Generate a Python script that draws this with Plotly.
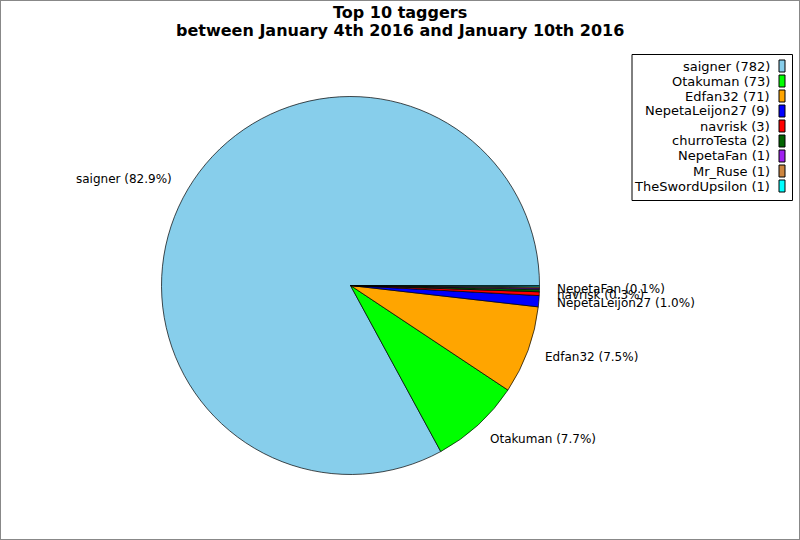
import math
import plotly.graph_objects as go

names = ["saigner", "Otakuman", "Edfan32", "NepetaLeijon27", "navrisk",
         "churroTesta", "NepetaFan", "Mr_Ruse", "TheSwordUpsilon"]
counts = [782, 73, 71, 9, 3, 2, 1, 1, 1]
colors = ["#87CEEB", "#00FF00", "#FFA500", "#0000FF", "#FF0000",
          "#006400", "#A020F0", "#CD853F", "#00FFFF"]
labeled = ["saigner", "Otakuman", "Edfan32", "NepetaLeijon27", "navrisk", "NepetaFan"]
title_lines = ["Top 10 taggers", "between January 4th 2016 and January 10th 2016"]

W, H = 800, 540
cx, cy, R = 350.5, 285.5, 189.0
FONT = "DejaVu Sans"

total = sum(counts)
# plotly: with counterclockwise direction, rotation marks the END of the first slice
rot = 90 - 360.0 * counts[0] / total
while rot < -180:
    rot += 360
while rot > 180:
    rot -= 360

fig = go.Figure()
fig.add_trace(go.Pie(
    labels=names, values=counts, sort=False, direction="counterclockwise",
    rotation=rot, textinfo="none", hoverinfo="label+value+percent",
    marker=dict(colors=colors, line=dict(color="black", width=0.7)),
    domain=dict(x=[(cx - R) / W, (cx + R) / W], y=[1 - (cy + R) / H, 1 - (cy - R) / H]),
    showlegend=False,
))

annotations = []
cum = 0
for n, c in zip(names, counts):
    frac = c / total
    mid = (cum + frac / 2) * 2 * math.pi
    cum += frac
    if n not in labeled:
        continue
    rr = R * 1.1
    px = cx + rr * math.cos(mid)
    py = cy - rr * math.sin(mid)
    right = math.cos(mid) >= 0
    annotations.append(dict(
        x=px / W, y=1 - py / H, xref="paper", yref="paper",
        text=f"{n} ({frac * 100:.1f}%)", showarrow=False,
        xanchor="left" if right else "right", yanchor="middle",
        xshift=-3 if right else 2,
        font=dict(family=FONT, size=12, color="black"),
    ))

for k, (line, ty) in enumerate(zip(title_lines, [12, 30])):
    annotations.append(dict(
        x=0.5, y=1 - ty / H, xref="paper", yref="paper",
        text="<b>" + line + "</b>", showarrow=False,
        xanchor="center", yanchor="middle",
        font=dict(family=FONT, size=16, color="black"),
    ))

shapes = [dict(type="rect", xref="paper", yref="paper", x0=0, x1=1, y0=0, y1=1,
               line=dict(color="#888888", width=2), fillcolor="rgba(0,0,0,0)", layer="above")]
# manual legend (symbols to the right of the text)
lx0, lx1, ly0, ly1 = 632, 792.5, 54.5, 200.5
shapes.append(dict(type="rect", xref="paper", yref="paper",
                   x0=lx0 / W, x1=lx1 / W, y0=1 - ly1 / H, y1=1 - ly0 / H,
                   line=dict(color="black", width=1), fillcolor="white"))
for i, (n, c, col) in enumerate(zip(names, counts, colors)):
    ry = 66 + i * 15
    annotations.append(dict(
        x=772 / W, y=1 - ry / H, xref="paper", yref="paper",
        text=f"{n} ({c})", showarrow=False, xanchor="right", yanchor="middle",
        font=dict(family=FONT, size=13, color="black"),
    ))
    shapes.append(dict(type="rect", xref="paper", yref="paper",
                       x0=779 / W, x1=785 / W, y0=1 - (ry + 6) / H, y1=1 - (ry - 6) / H,
                       line=dict(color="black", width=1), fillcolor=col))

fig.update_layout(
    width=W, height=H, margin=dict(l=0, r=0, t=0, b=0),
    paper_bgcolor="white", plot_bgcolor="white",
    annotations=annotations, shapes=shapes, showlegend=False,
)
fig.write_html("out.html", config={"displayModeBar": False},
               post_script="document.body.style.margin='0';document.body.style.padding='0';")
